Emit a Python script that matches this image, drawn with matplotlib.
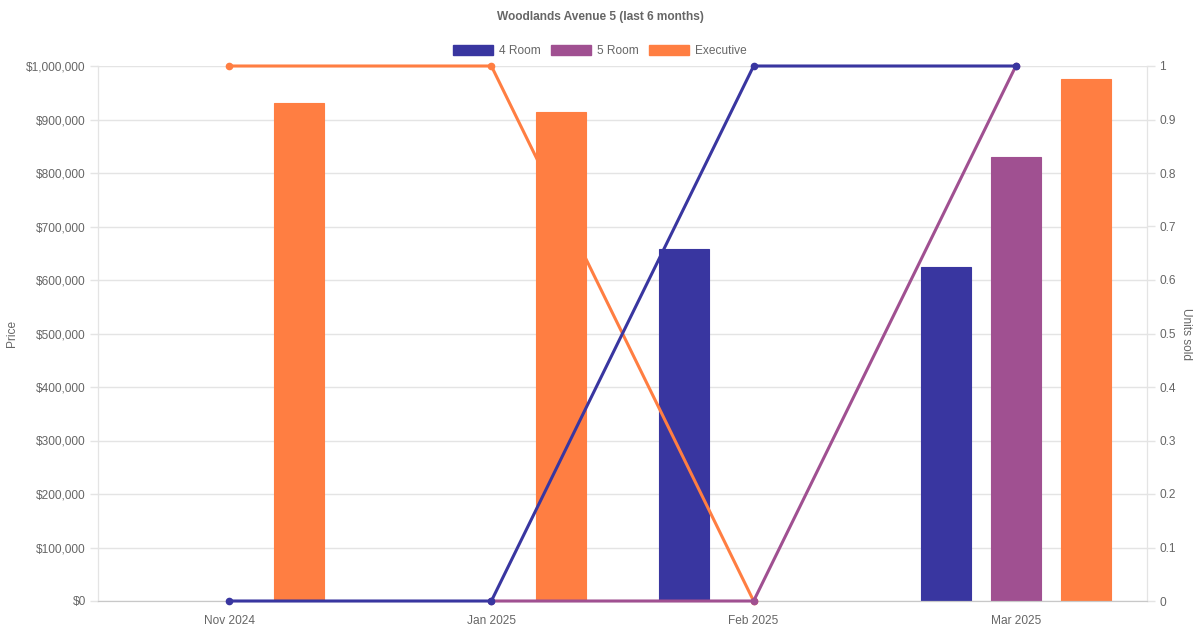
import numpy as np
import matplotlib
matplotlib.use('Agg')
from matplotlib import pyplot as plt
from matplotlib.patches import Patch

plt.rcParams['font.family'] = ['Liberation Sans', 'DejaVu Sans']

# Data
months = ['Nov 2024', 'Jan 2025', 'Feb 2025', 'Mar 2025']
flat_types = ['4 Room', '5 Room', 'Executive']
colors = ['#3936a0', '#a05091', '#ff7e42']

# median price per flat type (nan = no sale)
price_4room = [np.nan, np.nan, 658000, 624000]
price_5room = [np.nan, np.nan, np.nan, 830000]
price_exec = [931000, 914000, np.nan, 976000]

# units sold
units_4room = [0, 0, 1, 1]
units_5room = [np.nan, 0, 0, 1]
units_exec = [1, 1, 0, np.nan]

prices = [price_4room, price_5room, price_exec]
units = [units_4room, units_5room, units_exec]

fig = plt.figure(figsize=(12, 6.3), dpi=100)
ax = fig.add_axes([98 / 1200, 1 - 601 / 630, (1147 - 98) / 1200, (601 - 66) / 630])
ax2 = ax.twinx()

x = np.arange(len(months))
offsets = [-70 / 262, 0, 70 / 262]
bar_w = 50 / 262

for i in range(3):
    ax.bar(x + offsets[i], prices[i], width=bar_w, color=colors[i],
           edgecolor=colors[i], linewidth=0.8, zorder=2)

# lines on top of bars, first dataset drawn last
for i in [2, 1, 0]:
    ax2.plot(x, units[i], color=colors[i], lw=2.2, marker='o', ms=4.5,
             zorder=3 + (2 - i), clip_on=False)

ax.set_zorder(1)
ax2.set_zorder(2)

ax.set_xlim(-0.5, 3.5)
ax.set_ylim(0, 1000000)
ax2.set_ylim(0, 1)
ax.set_xticks(x)
ax.set_xticklabels(months)
ax.set_yticks(np.arange(0, 1000001, 100000))
ax.set_yticklabels(['${:,}'.format(v) for v in range(0, 1000001, 100000)])
ax2.set_yticks(np.arange(0, 1.01, 0.1))
ax2.set_yticklabels(['0'] + ['%.1f' % v for v in np.arange(0.1, 0.95, 0.1)] + ['1'])

grid_c = '#e4e4e4'
ax.grid(axis='y', color=grid_c, lw=1, zorder=0)
ax.set_axisbelow(True)
for a in (ax, ax2):
    for s in a.spines.values():
        s.set_color(grid_c)
    a.spines['top'].set_visible(False)
    a.spines['bottom'].set_color('#c8c8c8')
    a.tick_params(colors='#666666', labelsize=8.6, length=5.8, width=1)
    a.tick_params(axis='both', color=grid_c)
ax.tick_params(axis='x', length=0, pad=10)
ax.tick_params(axis='y', pad=3)
ax2.tick_params(axis='y', pad=3)

ax.set_ylabel('Price', color='#666666', fontsize=8.6, labelpad=6)
ax2.set_ylabel('Units sold', color='#666666', fontsize=8.6, rotation=270, labelpad=12)

fig.text(0.5, 1 - 17 / 630, 'Woodlands Avenue 5 (last 6 months)', ha='center', va='center',
         fontsize=8.6, fontweight='bold', color='#666666')

handles = [Patch(facecolor=c, edgecolor=c) for c in colors]
fig.legend(handles, flat_types, loc='center', bbox_to_anchor=(0.5, 1 - 51 / 630), ncol=3,
           frameon=False, fontsize=8.6, handlelength=3.33, handleheight=1.0,
           handletextpad=0.5, columnspacing=0.9, labelcolor='#666666')

fig.savefig('out.png', dpi=100)
